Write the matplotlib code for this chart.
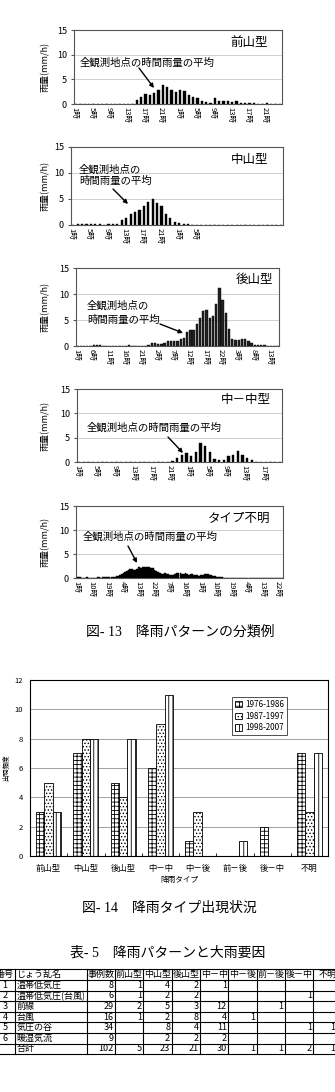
import matplotlib
matplotlib.use("Agg")
import matplotlib.pyplot as plt
import numpy as np
from matplotlib.transforms import Bbox, TransformedBbox

plt.rcParams['font.family'] = ['Noto Sans CJK JP', 'DejaVu Sans']
plt.rcParams['hatch.linewidth'] = 0.6

W, H = 335, 1092

# ---- 図-13: hourly mean rainfall (mm/h) ----
rain_zen = [0, 0, 0, 0, 0, 0, 0, 0, 0, 0, 0, 0,
            0.1, 0.1, 0.8, 1.5, 2.0, 1.9, 2.3, 2.8, 3.9, 3.5, 2.9, 2.4,
            2.9, 2.7, 1.9, 1.5, 1.2, 0.6, 0.5, 0.2, 1.2, 0.6, 0.6, 0.6,
            0.5, 0.6, 0.3, 0.2, 0.2, 0.2, 0.1, 0.0, 0.2, 0, 0, 0]
rain_chu = [0, 0.1, 0.1, 0.1, 0.1, 0.1, 0.1, 0, 0.1, 0.1, 0.1, 1.0,
            1.3, 2.1, 2.5, 2.8, 3.7, 4.5, 5.0, 4.3, 3.7, 2.2, 1.4, 0.6,
            0.4, 0.2, 0.1, 0, 0, 0, 0, 0, 0, 0, 0, 0,
            0, 0, 0, 0, 0, 0, 0, 0, 0, 0, 0, 0]
rain_ato = [0, 0, 0, 0, 0, 0.1, 0.1, 0.1, 0, 0, 0, 0, 0, 0, 0, 0,
            0.1, 0, 0, 0, 0, 0, 0.1, 0.6, 0.5, 0.3, 0.3, 0.6, 1.0, 1.0, 1.0, 1.0,
            1.4, 1.5, 2.6, 3.1, 3.0, 4.3, 5.3, 6.8, 6.9, 5.4, 5.8, 8.1, 11.2, 8.8, 6.3, 3.3,
            1.4, 1.1, 1.1, 1.4, 1.3, 0.9, 0.5, 0.2, 0.1, 0.1, 0.1, 0, 0, 0, 0]
rain_cc = [0.1, 0.1, 0.1, 0.1, 0.1, 0, 0, 0, 0, 0, 0,
           0, 0, 0, 0, 0, 0, 0, 0, 0.1, 0.3, 0.9,
           1.5, 1.9, 1.3, 2.0, 3.9, 3.3, 2.1, 0.6, 0.4, 0.4, 1.2,
           1.5, 2.2, 1.4, 0.8, 0.5, 0.1, 0.1, 0.1, 0, 0, 0]
rain_unk = [0.2, 0.2, 0.2, 0.1, 0.1, 0.1, 0.2, 0.1, 0.1, 0.1,
            0.1, 0.1, 0.2, 0.2, 0.1, 0.2, 0.2, 0.2, 0.3, 0.2,
            0.3, 0.3, 0.3, 0.4, 0.5, 0.7, 0.8, 1.0, 1.2, 1.4,
            1.7, 1.9, 1.8, 1.7, 1.6, 1.9, 2.2, 2.1, 2.3, 2.3,
            2.2, 2.3, 2.3, 2.1, 2.0, 1.7, 1.4, 1.2, 1.0, 0.9,
            0.9, 1.0, 0.9, 0.8, 0.7, 0.7, 0.6, 0.8, 1.0, 1.1,
            1.0, 0.9, 0.9, 1.0, 0.8, 0.7, 0.8, 0.8, 0.7, 0.6,
            0.6, 0.5, 0.6, 0.7, 0.8, 0.9, 0.8, 0.7, 0.6, 0.5,
            0.4, 0.3, 0.2, 0.2, 0.2, 0.1, 0.1, 0.1, 0.1, 0.1,
            0.1, 0, 0, 0, 0, 0, 0, 0, 0, 0,
            0, 0, 0, 0, 0, 0, 0, 0, 0, 0,
            0, 0, 0, 0, 0, 0, 0, 0, 0, 0]

labels_zen = ['1時', '5時', '9時', '13時', '17時', '21時', '1時', '5時', '9時', '13時', '17時', '21時']
labels_chu = ['1時', '5時', '9時', '13時', '17時', '21時', '1時', '5時']
labels_ato = ['1時', '6時', '11時', '16時', '21時', '2時', '7時', '12時', '17時', '22時', '3時', '8時', '13時']
labels_cc = ['1時', '5時', '9時', '13時', '17時', '21時', '1時', '5時', '9時', '13時', '17時']
labels_unk = ['1時', '10時', '19時', '4時', '13時', '22時', '7時', '16時', '1時', '10時', '19時', '4時', '13時', '22時']

# ---- 図-14: occurrence counts ----
types = ['前山型', '中山型', '後山型', '中－中', '中－後', '前－後', '後－中', '不明']
periods = ['1976-1986', '1987-1997', '1998-2007']
c_1976 = [3, 7, 5, 6, 1, 0, 2, 7]
c_1987 = [5, 8, 4, 9, 3, 0, 0, 3]
c_1998 = [3, 8, 8, 11, 0, 1, 0, 7]

# ---- 表-5 ----
tbl_header = ['番号', 'じょう乱名', '事例数', '前山型', '中山型', '後山型', '中－中', '中－後', '前－後', '後－中', '不明']
row_no = ['1', '2', '3', '4', '5', '6', '']
row_name = ['温帯低気圧', '温帯低気圧(台風)', '前線', '台風', '気圧の谷', '暖湿気流', '合計']
row_total = [8, 6, 29, 16, 34, 9, 102]
t_zen = [1, 1, 2, 1, None, None, 5]
t_chu = [4, 2, 5, 2, 8, 2, 23]
t_ato = [2, 2, 3, 8, 4, 2, 21]
t_cc = [1, None, 12, 4, 11, 2, 30]
t_cg = [None, None, None, 1, None, None, 1]
t_zg = [None, None, 1, None, None, None, 1]
t_gc = [None, 1, None, None, 1, None, 2]
t_unk = [None, None, 6, None, 10, 3, 19]


def box(l, t, r, b):
    return [l / W, 1 - b / H, (r - l) / W, (b - t) / H]


fig = plt.figure(figsize=(W / 100, H / 100), dpi=100)

panels = [
    (rain_zen, labels_zen, 4, (74, 30, 282, 104), 0.5, 'black'),
    (rain_chu, labels_chu, 4, (71, 147, 283, 225), 0.5, 'black'),
    (rain_ato, labels_ato, 5, (76, 268, 279, 346), 0.75, '#222222'),
    (rain_cc, labels_cc, 4, (77, 389, 282, 462), 0.5, 'black'),
    (rain_unk, labels_unk, 9, (76, 506, 283, 578), 1.0, 'black'),
]

for vals, labs, step, (l, t, r, b), bw, fc in panels:
    ax = fig.add_axes(box(l, t, r, b))
    n = len(vals)
    ax.bar(range(n), vals, width=bw, color=fc, edgecolor='black', linewidth=0.3)
    ax.set_xlim(-0.5, n - 0.5)
    ax.set_ylim(0, 15)
    ax.set_yticks([0, 5, 10, 15])
    ax.set_xticks([i * step - 0.5 for i in range(len(labs))])
    ax.set_xticklabels(labs, rotation=-90, fontsize=5.5)
    ax.tick_params(axis='x', length=0, pad=2)
    ax.tick_params(axis='y', length=2, pad=3, labelsize=6.5, color='#555555')
    ax.yaxis.grid(True, color='#c8c8c8', lw=0.6)
    ax.set_axisbelow(True)
    for s in ax.spines.values():
        s.set_color('#555555')
        s.set_linewidth(0.8)
    ax.set_ylabel('雨量(mm/h)', fontsize=6.5)
    ax.yaxis.set_label_coords((50 - l) / (r - l), 0.5)

# ---- grouped bar chart ----
ax2 = fig.add_axes(box(30, 680, 328, 856))
xc = np.arange(len(types))
w = 0.223
hatches = ['++++', '.....', '||||']
for k, vals in enumerate([c_1976, c_1987, c_1998]):
    ax2.bar(xc + (k - 1) * w, vals, width=w, facecolor='white', edgecolor='black',
            hatch=hatches[k], linewidth=0.6, label=periods[k])
ax2.set_xlim(-0.5, len(types) - 0.5)
ax2.set_ylim(0, 12)
ax2.set_yticks(range(0, 13, 2))
ax2.set_xticks(xc)
ax2.set_xticklabels(types, fontsize=6)
ax2.set_xticks(np.arange(len(types) + 1) - 0.5, minor=True)
ax2.tick_params(axis='x', which='major', length=0, pad=6)
ax2.tick_params(axis='x', which='minor', length=2, direction='in')
ax2.tick_params(axis='y', length=0, pad=5, labelsize=5.5)
ax2.yaxis.grid(True, color='#a0a0a0', lw=0.7)
ax2.set_axisbelow(True)
for s in ax2.spines.values():
    s.set_color('black')
    s.set_linewidth(0.8)
ax2.set_ylabel('出現頻度', fontsize=4.8)
ax2.yaxis.set_label_coords((10 - 30) / 298, 0.5)
ax2.set_xlabel('降雨タイプ', fontsize=5.5, labelpad=2)
leg = ax2.legend(loc='upper left', bbox_to_anchor=(232 / W, 1 - 697 / H),
                 bbox_transform=fig.transFigure, fontsize=5.8, frameon=True,
                 fancybox=False, edgecolor='black', handlelength=0.9, handleheight=0.9,
                 handletextpad=0.4, borderpad=0.35, labelspacing=0.35, borderaxespad=0)
leg.get_frame().set_linewidth(0.6)

# ---- overlay for texts, arrows and table ----
ov = fig.add_axes([0, 0, 1, 1])
ov.set_xlim(0, W)
ov.set_ylim(H, 0)
ov.axis('off')

notes = [
    ('前山型', (268, 42), '全観測地点の時間雨量の平均', (80, 63), 1.2, (139, 68), (154, 88)),
    ('中山型', (268, 160), '全観測地点の\n時間雨量の平均', (79, 175.5), 1.2, (113, 189), (128, 204)),
    ('後山型', (273, 279), '全観測地点の\n時間雨量の平均', (87, 313), 1.5, (160, 324), (183, 333)),
    ('中－中型', (271, 399), '全観測地点の時間雨量の平均', (87, 428), 1.2, (168, 437), (183, 453)),
    ('タイプ不明', (270, 518), '全観測地点の時間雨量の平均', (83, 537), 1.2, (128, 546), (137, 563)),
]
for title, txy, note, nxy, lsp, a0, a1 in notes:
    ov.text(txy[0], txy[1], title, ha='right', va='center', fontsize=9)
    ov.text(nxy[0], nxy[1], note, ha='left', va='center', fontsize=7.5, linespacing=lsp)
    ov.annotate('', xy=a1, xytext=a0,
                arrowprops=dict(arrowstyle='-|>', color='black', lw=1.0,
                                mutation_scale=6, shrinkA=0, shrinkB=0))

cap_font = ['Liberation Serif', 'Noto Sans CJK JP']
ov.text(180, 632, '図- 13　降雨パターンの分類例', ha='center', va='center', fontsize=10, family=cap_font)
ov.text(169, 908, '図- 14　降雨タイプ出現状況', ha='center', va='center', fontsize=10, family=cap_font)
ov.text(168, 953, '表- 5　降雨パターンと大雨要因', ha='center', va='center', fontsize=10, family=cap_font)

# table grid (the picture cuts the table at both sides, as in the original page)
col_edges = [-5, 15, 86.7, 115, 143.3, 171.7, 200, 228.3, 256.7, 285, 313.3, 341.7]
row_top = 969.3
row_h = 10.6
n_rows = 1 + len(row_name)
row_edges = [row_top + i * row_h for i in range(n_rows + 1)]
for y in row_edges:
    ov.plot([col_edges[0], col_edges[-1]], [y, y], color='black', lw=0.8)
for x in col_edges:
    ov.plot([x, x], [row_edges[0], row_edges[-1]], color='black', lw=0.8)


def cell_text(ci, ri, s, ha):
    x0, x1 = col_edges[ci], col_edges[ci + 1]
    y0, y1 = row_edges[ri], row_edges[ri + 1]
    if ha == 'left':
        x = x0 + 1.5
    elif ha == 'right':
        x = x1 - 1.5
    else:
        x = (x0 + x1) / 2
    t = ov.text(x, (y0 + y1) / 2, s, ha=ha, va='center', fontsize=6.5)
    t.set_clip_box(TransformedBbox(Bbox.from_extents(x0, y0, x1, y1), ov.transData))
    t.set_clip_on(True)


for ci, h in enumerate(tbl_header):
    cell_text(ci, 0, h, 'left' if ci == 1 else 'center')

value_cols = [row_total, t_zen, t_chu, t_ato, t_cc, t_cg, t_zg, t_gc, t_unk]
for ri in range(len(row_name)):
    cell_text(0, ri + 1, row_no[ri], 'center')
    cell_text(1, ri + 1, row_name[ri], 'left')
    for k, col in enumerate(value_cols):
        v = col[ri]
        if v is not None:
            cell_text(k + 2, ri + 1, str(v), 'right')

fig.savefig('out.png', dpi=100)
